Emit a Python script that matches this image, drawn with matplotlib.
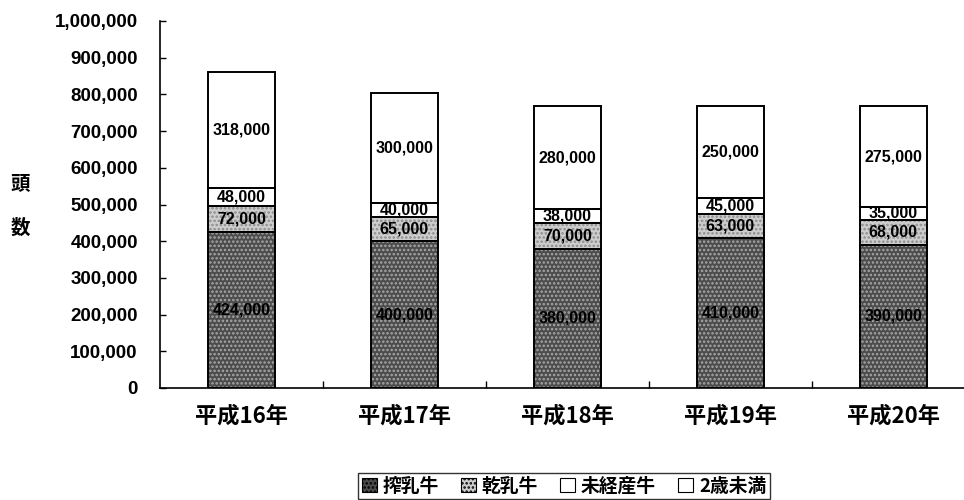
import matplotlib
matplotlib.use("Agg")
import matplotlib.pyplot as plt
from matplotlib.patches import Patch
from matplotlib.ticker import FuncFormatter, FixedLocator
import numpy as np

plt.rcParams['font.family'] = ['Liberation Sans', 'Noto Sans CJK JP']
plt.rcParams['font.weight'] = 'bold'
plt.rcParams['hatch.linewidth'] = 1.2

years = ['平成16年', '平成17年', '平成18年', '平成19年', '平成20年']
series_names = ['搾乳牛', '乾乳牛', '未経産牛', '2歳未満']
milking = [424000, 400000, 380000, 410000, 390000]
dry = [72000, 65000, 70000, 63000, 68000]
heifer = [48000, 40000, 38000, 45000, 35000]
under2 = [318000, 300000, 280000, 250000, 275000]

series = [milking, dry, heifer, under2]
faces = ['#4c4c4c', '#cdcdcd', 'white', 'white']
hatches = ['....', '....', None, None]
hatch_cols = ['#a8a8a8', '#8c8c8c', 'black', 'black']

fig = plt.figure(figsize=(9.64, 5.0), dpi=100)
ax = fig.add_axes([0.166, 0.224, 0.840, 0.734])

x = np.arange(len(years))
width = 0.41
bottom = np.zeros(len(years))
for vals, fc, h, hc in zip(series, faces, hatches, hatch_cols):
    vals = np.array(vals)
    if h:
        ax.bar(x, vals, width, bottom=bottom, color=fc, hatch=h,
               edgecolor=hc, linewidth=0, zorder=2)
    else:
        ax.bar(x, vals, width, bottom=bottom, color=fc, linewidth=0, zorder=2)
    ax.bar(x, vals, width, bottom=bottom, facecolor='none',
           edgecolor='black', linewidth=1.4, zorder=3)
    for xi, b, v in zip(x, bottom, vals):
        ax.text(xi, b + v / 2, f'{v:,}', ha='center', va='center',
                fontsize=11.5, fontweight='bold', color='black', zorder=4)
    bottom = bottom + vals

ax.set_ylim(0, 1000000)
ax.set_xlim(-0.5, 4.47)
ax.set_yticks(np.arange(0, 1000001, 100000))
ax.yaxis.set_major_formatter(FuncFormatter(lambda v, p: f'{int(v):,}'))
ax.tick_params(axis='y', direction='in', length=4, width=1, labelsize=13.5,
               pad=16)
for lab in ax.get_yticklabels():
    lab.set_fontweight('bold')

ax.set_xticks(x)
ax.set_xticklabels(years, fontsize=16, fontweight='bold',
                   family=['Noto Sans CJK JP'])
ax.tick_params(axis='x', which='major', length=0, pad=12)
ax.xaxis.set_minor_locator(FixedLocator(x[:-1] + 0.5))
ax.tick_params(axis='x', which='minor', direction='in', length=5, width=1)

for s in ['top', 'right']:
    ax.spines[s].set_visible(False)
ax.spines['left'].set_linewidth(1.2)
ax.spines['bottom'].set_linewidth(1.2)

fig.text(0.021, 0.632, '頭', ha='center', va='center', fontsize=14,
         fontweight='bold', family=['Noto Sans CJK JP'])
fig.text(0.021, 0.543, '数', ha='center', va='center', fontsize=14,
         fontweight='bold', family=['Noto Sans CJK JP'])

handles = [Patch(facecolor=fc, hatch=h, edgecolor='black', linewidth=0.8)
           for fc, h in zip(faces, ['....', '....', None, None])]
leg = fig.legend(handles, series_names, loc='center', ncol=4,
                 bbox_to_anchor=(0.585, 0.028), frameon=True, fancybox=False,
                 edgecolor='black', handlelength=0.8, handleheight=0.8,
                 handletextpad=0.3, columnspacing=1.2, borderpad=0.2,
                 prop={'family': ['Noto Sans CJK JP'], 'weight': 'bold',
                       'size': 13.5})
leg.get_frame().set_linewidth(1.0)

fig.savefig('out.png', dpi=100)
